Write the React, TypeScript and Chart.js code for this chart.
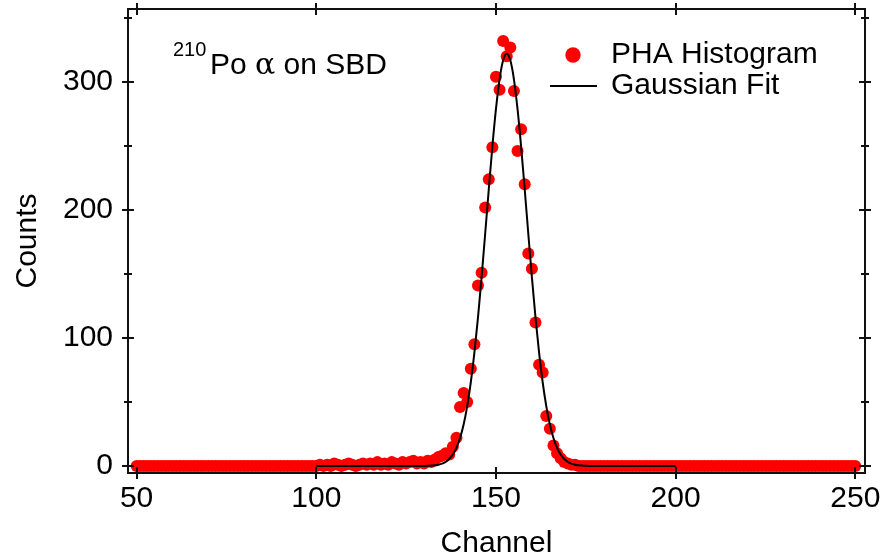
import React, { useEffect, useRef } from "react";
import { Chart, registerables } from "chart.js";

Chart.register(...registerables);

// Histogram: channels 50..250 (one value per channel)
const channelStart = 50;
const counts = [
  // 50-99
  0, 0, 0, 0, 0, 0, 0, 0, 0, 0,
  0, 0, 0, 0, 0, 0, 0, 0, 0, 0,
  0, 0, 0, 0, 0, 0, 0, 0, 0, 0,
  0, 0, 0, 0, 0, 0, 0, 0, 0, 0,
  0, 0, 0, 0, 0, 0, 0, 0, 0, 0,
  // 100-139
  0, 1, 0, 1, 0, 2, 1, 0, 1, 2,
  1, 0, 1, 2, 1, 2, 1, 3, 1, 2,
  1, 3, 2, 1, 3, 2, 3, 4, 2, 3,
  2, 4, 3, 5, 7, 8, 10, 9, 15, 22,
  // 140-176
  46, 57, 50, 76, 95, 141, 151, 202, 224, 249,
  304, 294, 332, 320, 327, 293, 246, 263, 220, 166,
  154, 112, 79, 73, 39, 29, 16, 10, 6, 3,
  2, 1, 1, 0, 0, 0, 0,
  // 177-250
  0, 0, 0, 0, 0, 0, 0, 0, 0, 0,
  0, 0, 0, 0, 0, 0, 0, 0, 0, 0,
  0, 0, 0, 0, 0, 0, 0, 0, 0, 0,
  0, 0, 0, 0, 0, 0, 0, 0, 0, 0,
  0, 0, 0, 0, 0, 0, 0, 0, 0, 0,
  0, 0, 0, 0, 0, 0, 0, 0, 0, 0,
  0, 0, 0, 0, 0, 0, 0, 0, 0, 0,
  0, 0, 0, 0,
];

// Gaussian fit curve: channels 100..200
const fitStart = 100;
const fitCounts = [
  // 100-130
  0, 0, 0, 0, 0, 0, 0, 0, 0, 0,
  0, 0, 0, 0, 0, 0, 0, 0, 0, 0,
  0, 0, 0, 0, 0, 0, 0, 0, 0, 0,
  0,
  // 131-175
  0.1, 0.3, 0.5, 1.0, 1.8, 3.2, 5.4, 8.9, 14.1,
  21.8, 32.4, 46.8, 65.4, 88.5, 116.1, 147.4, 181.4, 216.2, 249.5,
  278.9, 302.1, 316.9, 322, 316.9, 302.1, 278.9, 249.5, 216.2, 181.4,
  147.4, 116.1, 88.5, 65.4, 46.8, 32.4, 21.8, 14.1, 8.9, 5.4,
  3.2, 1.8, 1.0, 0.5, 0.3, 0.1,
  // 176-200
  0, 0, 0, 0, 0, 0, 0, 0, 0, 0,
  0, 0, 0, 0, 0, 0, 0, 0, 0, 0,
  0, 0, 0, 0, 0,
];

const xTicks = [50, 100, 150, 200, 250];
const yTicks = [0, 50, 100, 150, 200, 250, 300, 350];
const yLabeled = [0, 100, 200, 300];

const xTitle = "Channel";
const yTitle = "Counts";
const legendLabels = ["PHA Histogram", "Gaussian Fit"];

const SANS = '"Liberation Sans", Arial, Helvetica, sans-serif';
const SERIF = '"DejaVu Serif", "Liberation Serif", serif';
const FS = 30;

export default function App() {
  const ref = useRef<HTMLCanvasElement>(null);

  useEffect(() => {
    document.body.style.margin = "0";
    const histData = counts.map((c, i) => ({ x: channelStart + i, y: c }));
    const fitData = fitCounts.map((c, i) => ({ x: fitStart + i, y: c }));

    const framePlugin = {
      id: "frame",
      afterDraw(chart: any) {
        const { ctx, chartArea: a, scales } = chart;
        ctx.save();
        ctx.strokeStyle = "#111";
        ctx.lineWidth = 2;
        ctx.strokeRect(a.left, a.top, a.right - a.left, a.bottom - a.top);
        ctx.lineWidth = 2;
        ctx.beginPath();
        for (const v of xTicks) {
          const px = Math.round(scales.x.getPixelForValue(v));
          const L = 6;
          ctx.moveTo(px, a.bottom - L);
          ctx.lineTo(px, a.bottom + L);
          ctx.moveTo(px, a.top - L);
          ctx.lineTo(px, a.top + L);
        }
        for (const v of yTicks) {
          const py = Math.round(scales.y.getPixelForValue(v));
          const L = yLabeled.includes(v) ? 6 : 4;
          ctx.moveTo(a.left - L, py);
          ctx.lineTo(a.left + L, py);
          ctx.moveTo(a.right - L, py);
          ctx.lineTo(a.right + L, py);
        }
        ctx.stroke();

        // annotation
        ctx.fillStyle = "#000";
        ctx.textBaseline = "alphabetic";
        ctx.textAlign = "left";
        ctx.font = `20px ${SANS}`;
        ctx.fillText("210", 173, 56);
        let x = 210;
        ctx.font = `${FS}px ${SANS}`;
        ctx.fillText("Po ", x, 73.5);
        x += ctx.measureText("Po ").width;
        ctx.font = `${FS}px ${SERIF}`;
        ctx.fillText("\u03b1", x, 73.5);
        x += ctx.measureText("\u03b1").width;
        ctx.font = `${FS}px ${SANS}`;
        ctx.fillText(" on SBD", x, 73.5);

        // legend
        ctx.fillStyle = "#ff0000";
        ctx.beginPath();
        ctx.arc(573, 55, 7.7, 0, Math.PI * 2);
        ctx.fill();
        ctx.strokeStyle = "#000";
        ctx.lineWidth = 2;
        ctx.beginPath();
        ctx.moveTo(550, 86);
        ctx.lineTo(597, 86);
        ctx.stroke();
        ctx.fillStyle = "#000";
        ctx.font = `${FS}px ${SANS}`;
        ctx.fillText(legendLabels[0], 611, 63);
        ctx.fillText(legendLabels[1], 611, 93.5);
        ctx.restore();
      },
    };

    const chart = new Chart(ref.current as HTMLCanvasElement, {
      type: "scatter",
      data: {
        datasets: [
          {
            type: "line",
            label: legendLabels[1],
            data: fitData,
            borderColor: "#000",
            borderWidth: 2,
            pointRadius: 0,
            fill: false,
            cubicInterpolationMode: "monotone",
            clip: false,
          } as any,
          {
            label: legendLabels[0],
            data: histData,
            backgroundColor: "#ff0000",
            borderWidth: 0,
            pointRadius: 6,
            pointHoverRadius: 6,
            clip: false,
          } as any,
        ],
      },
      options: {
        animation: false,
        responsive: true,
        maintainAspectRatio: false,
        events: [],
        layout: { padding: { top: 9, right: 21, left: 0, bottom: 0 } },
        plugins: {
          legend: { display: false },
          tooltip: { enabled: false },
        },
        scales: {
          x: {
            type: "linear",
            min: 47.6,
            max: 252.7,
            afterBuildTicks: (s: any) => {
              s.ticks = xTicks.map((v) => ({ value: v }));
            },
            afterFit: (s: any) => {
              s.height = 85;
              s.paddingLeft = 0;
              s.paddingRight = 0;
            },
            grid: { display: false, drawTicks: false },
            border: { display: false },
            ticks: {
              autoSkip: false,
              maxRotation: 0,
              padding: 8,
              color: "#000",
              font: { family: SANS, size: FS },
            },
            title: {
              display: true,
              text: xTitle,
              color: "#000",
              font: { family: SANS, size: FS, lineHeight: 1 },
              padding: { top: 0, bottom: -1 },
            },
          },
          y: {
            type: "linear",
            min: -5.5,
            max: 357,
            afterBuildTicks: (s: any) => {
              s.ticks = yTicks.map((v) => ({ value: v }));
            },
            afterFit: (s: any) => {
              s.width = 128;
              s.paddingTop = 0;
              s.paddingBottom = 0;
            },
            grid: { display: false, drawTicks: false },
            border: { display: false },
            ticks: {
              autoSkip: false,
              padding: 15,
              color: "#000",
              font: { family: SANS, size: FS },
              callback: (v: any) => (yLabeled.includes(v) ? String(v) : ""),
            },
            title: {
              display: true,
              text: yTitle,
              color: "#000",
              font: { family: SANS, size: FS, lineHeight: 1.2 },
              padding: { top: 10, bottom: 0 },
            },
          },
        },
      },
      plugins: [framePlugin],
    });
    return () => chart.destroy();
  }, []);

  return (
    <div style={{ position: "fixed", left: 0, top: 0, width: 886, height: 558 }}>
      <canvas ref={ref} />
    </div>
  );
}
